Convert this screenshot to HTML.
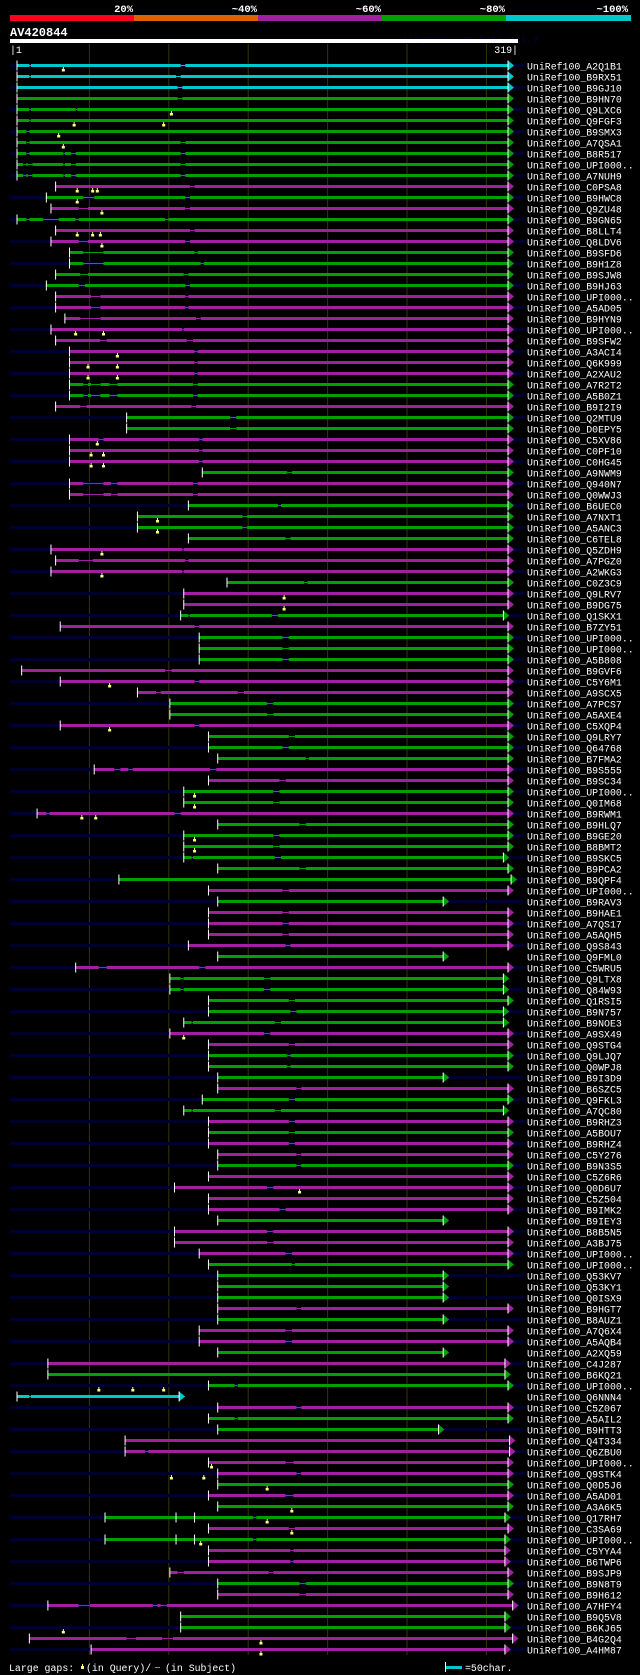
<!DOCTYPE html>
<html><head><meta charset="utf-8">
<style>
html,body{margin:0;padding:0;background:#000;}
svg{display:block;}
text{font-family:"Liberation Mono","DejaVu Sans Mono",monospace;}
</style></head>
<body>
<svg id="chart" width="640" height="1675" viewBox="0 0 640 1675" xmlns="http://www.w3.org/2000/svg">
<rect x="0" y="0" width="640" height="1675" fill="#000"/>
<g id="header">
  <rect x="10" y="15" width="124" height="6" fill="#ff0020"/>
  <rect x="134" y="15" width="124" height="6" fill="#e06000"/>
  <rect x="258" y="15" width="124" height="6" fill="#a020a0"/>
  <rect x="382" y="15" width="124" height="6" fill="#00a000"/>
  <rect x="506" y="15" width="125" height="6" fill="#00c8c8"/>
  <text x="133" y="12" fill="#fff" font-size="10.5" font-weight="bold" text-anchor="end">20%</text>
  <text x="257" y="12" fill="#fff" font-size="10.5" font-weight="bold" text-anchor="end">~40%</text>
  <text x="381" y="12" fill="#fff" font-size="10.5" font-weight="bold" text-anchor="end">~60%</text>
  <text x="505" y="12" fill="#fff" font-size="10.5" font-weight="bold" text-anchor="end">~80%</text>
  <text x="628" y="12" fill="#fff" font-size="10.5" font-weight="bold" text-anchor="end">~100%</text>
</g>
<text x="10" y="36" fill="#fff" font-size="12" font-weight="bold">AV420844</text>
<text x="402" y="43" fill="#000048" font-size="9.9">AlignView.pm Beta rel.7</text>
<rect x="10" y="39" width="508" height="4" fill="#fff"/>
<text x="10" y="53" fill="#fff" font-size="9.9">|1</text>
<text x="518" y="53" fill="#fff" font-size="9.9" text-anchor="end">319|</text>
<g id="grid"></g>
<g id="rows"></g>
<g id="footer">
  <text x="9" y="1671" fill="#fff" font-size="9.9">Large gaps:</text>
  <rect x="81" y="1666" width="3" height="3" fill="#ffff80"/>
  <rect x="82" y="1664" width="1" height="2" fill="#ffff80"/>
  <text x="86" y="1671" fill="#fff" font-size="9.9">(in Query)/</text>
  <rect x="155" y="1667" width="5" height="1" fill="#00c8c8"/>
  <text x="165" y="1671" fill="#fff" font-size="9.9">(in Subject)</text>
  <rect x="445" y="1662" width="1" height="10" fill="#fff"/>
  <rect x="446" y="1666" width="16" height="3" fill="#00c8c8"/>
  <text x="465" y="1671" fill="#fff" font-size="9.9">=50char.</text>
</g>
</svg>
<script>
const names = ["A2Q1B1","B9RX51","B9GJ10","B9HN70","Q9LXC6","Q9FGF3","B9SMX3","A7QSA1","B8R517","UPI000..","A7NUH9","C0PSA8","B9HWC8","Q9ZU48","B9GN65","B8LLT4","Q8LDV6","B9SFD6","B9H1Z8","B9SJW8","B9HJ63","UPI000..","A5AD05","B9HYN9","UPI000..","B9SFW2","A3ACI4","Q6K999","A2XAU2","A7R2T2","A5B0Z1","B9I2I9","Q2MTU9","D0EPY5","C5XV86","C0PF10","C0HG45","A9NWM9","Q940N7","Q0WWJ3","B6UEC0","A7NXT1","A5ANC3","C6TEL8","Q5ZDH9","A7PGZ0","A2WKG3","C0Z3C9","Q9LRV7","B9DG75","Q1SKX1","B7ZY51","UPI000..","UPI000..","A5B808","B9GVF6","C5Y6M1","A9SCX5","A7PCS7","A5AXE4","C5XQP4","Q9LRY7","Q64768","B7FMA2","B9S555","B9SC34","UPI000..","Q0IM68","B9RWM1","B9HLQ7","B9GE20","B8BMT2","B9SKC5","B9PCA2","B9QPF4","UPI000..","B9RAV3","B9HAE1","A7QS17","A5AQH5","Q9S843","Q9FML0","C5WRU5","Q9LTX8","Q84W93","Q1RSI5","B9N757","B9NOE3","A9SX49","Q9STG4","Q9LJQ7","Q0WPJ8","B9I3D9","B6SZC5","Q9FKL3","A7QC80","B9RHZ3","A5BOU7","B9RHZ4","C5Y276","B9N3S5","C5Z6R6","Q0D6U7","C5Z504","B9IMK2","B9IEY3","B8B5N5","A3BJ75","UPI000..","UPI000..","Q53KV7","Q53KY1","Q0ISX9","B9HGT7","B8AUZ1","A7Q6X4","A5AQB4","A2XQ59","C4J287","B6KQ21","UPI000..","Q6NNN4","C5Z067","A5AIL2","B9HTT3","Q4T334","Q6ZBU0","UPI000..","Q9STK4","Q0D5J6","A5AD01","A3A6K5","Q17RH7","C3SA69","UPI000..","C5YYA4","B6TWP6","B9SJP9","B9N8T9","B9H612","A7HFY4","B9Q5V8","B6KJ65","B4G2Q4","A4HM87"];
const starts = [1,1,1,1,1,1,1,1,1,1,1,26,20,23,1,26,23,35,35,26,20,26,26,32,23,26,35,35,35,35,35,26,72,72,35,35,35,121,35,35,112,79,79,112,23,26,23,137,109,109,107,29,119,119,119,4,29,79,100,100,29,125,125,131,51,125,109,109,14,131,109,109,109,131,67,125,131,125,125,125,112,131,39,100,100,125,125,109,100,125,125,125,131,131,121,109,125,125,125,131,131,125,103,125,125,131,103,103,119,125,131,131,131,131,131,119,119,131,21,21,125,1,131,125,131,71,71,125,131,131,125,131,58,125,58,125,125,100,131,131,21,107,107,9,49];
const ends = [319,319,319,319,319,319,319,319,319,319,319,319,319,319,319,319,319,319,319,319,319,319,319,319,319,319,319,319,319,319,319,319,319,319,319,319,319,319,319,319,319,319,319,319,319,319,319,319,319,319,316,319,319,319,319,319,319,319,319,319,319,319,319,319,319,319,319,319,319,319,319,319,316,319,321,319,277,319,319,319,319,277,319,316,316,319,316,316,319,319,319,319,277,319,319,316,319,319,319,319,319,319,319,319,319,277,319,319,319,319,277,277,277,319,277,319,319,277,317,317,319,106,319,319,274,320,320,319,319,319,319,319,317,319,317,317,317,319,319,319,322,317,317,322,317];
const colors = ["cccggggggg","gmgmgmmggg","gmmmmmmmmg","gmggmmmgmm","ggggmmmgmm","gmgggmmmgg","mgggmmggmg","gggggmgmmm","mgmgggggmm","gggmggmgmm","gmmmmgmmmg","gggmgmmgmg","gcmggmmmmg","mggmgmmmgm","mggmm"].join("");
const gaps = [[[9,10],[107,110]],[[9,10],[104,107]],[[105,108]],[[105,108]],[[9,10],[39,40]],[[9,10]],[[7,9]],[[7,9],[107,110]],[[7,9],[31,32],[36,39],[107,110]],[[5,7],[8,11],[31,32],[36,39],[107,110]],[[5,7],[8,11],[31,32],[36,39],[107,110]],[[113,116]],[[44,51],[110,113]],[[41,47],[110,113]],[[7,9],[18,28],[39,41],[97,99]],[[113,116]],[[41,47],[110,113]],[[44,57],[116,118]],[[44,57],[120,122]],[[42,47],[109,112]],[[41,45],[110,113]],[[49,55],[110,112]],[[49,55],[110,112]],[[42,55],[117,120]],[[108,109]],[[55,59],[111,115]],[[116,118]],[[116,118]],[[116,118]],[[44,47],[49,55],[61,66],[115,118]],[[44,47],[49,55],[61,66],[115,118]],[[42,46],[114,117]],[[139,143]],[[139,143]],[[54,57],[119,121]],[[119,121]],[[119,121]],[[176,179]],[[44,57],[62,66],[115,118]],[[44,57],[62,66],[115,118]],[[170,172]],[[147,150]],[[147,150]],[[175,178]],[[108,109]],[[41,50],[110,112]],[[108,109]],[[187,189]],[],[],[[112,113],[166,170]],[[116,119]],[[173,177]],[[173,177]],[[173,177]],[[97,101]],[[116,119]],[[91,94],[144,148]],[[163,167]],[[163,167]],[[116,119]],[[177,181]],[[173,177]],[[188,190]],[[64,68],[73,76],[126,130]],[[171,175]],[[167,171]],[[167,171]],[[20,22],[103,107]],[[184,188]],[[167,171]],[[167,171]],[[114,115],[168,172]],[[184,188]],[],[[173,177]],[],[[173,177]],[[173,177]],[[173,177]],[[175,178]],[],[[54,59],[119,123]],[[107,109],[161,165]],[[107,109],[161,165]],[[177,181]],[[178,182]],[[114,115],[168,172]],[[161,165]],[[177,181]],[[176,178]],[[176,178]],[],[[182,185]],[[177,181]],[[114,115],[168,172]],[[177,181]],[[177,181]],[[177,181]],[[182,185]],[[182,185]],[],[[163,167]],[],[[171,175]],[],[[163,167]],[[163,167]],[[175,179]],[[179,181]],[],[],[],[[182,185]],[],[[175,179]],[[175,179]],[],[],[],[[142,144]],[[9,10]],[[182,185]],[[142,144]],[],[],[[84,86]],[[175,180]],[[182,185]],[],[[175,180]],[],[[154,156]],[[177,181]],[[154,156]],[[178,180]],[[178,180]],[[105,109],[164,167]],[[184,188]],[[184,188]],[[41,48],[89,92],[94,98]],[],[],[[72,78],[95,102]],[]];
const markers = [[31],[],[],[],[101],[38,96],[28],[31],[],[],[],[40,50,53],[40],[56],[],[40,50,55],[56],[],[],[],[],[],[],[],[39,57],[],[66],[47,66],[47,66],[],[],[],[],[],[53],[49,57],[49,57],[],[],[],[],[92],[92],[],[56],[],[56],[],[174],[174],[],[],[],[],[],[],[61],[],[],[],[61],[],[],[],[],[],[116],[116],[43,52],[],[116],[116],[],[],[],[],[],[],[],[],[],[],[],[],[],[],[],[],[109],[],[],[],[],[],[],[],[],[],[],[],[],[],[184],[],[],[],[],[],[],[],[],[],[],[],[],[],[],[],[],[],[54,76,96],[],[],[],[],[],[],[127],[101,122],[163],[],[179],[163],[179],[120],[],[],[],[],[],[],[],[31],[159],[159],[],[71,97]];
const innerTicks = [[132,104],[132,116],[134,104],[134,116]];
const gridTicks = [1,2,3,4,5,6];

const NS = "http://www.w3.org/2000/svg";
const colorMap = {c:"#00c8c8", g:"#00a000", m:"#a020a0"};
function xs(r){ return 17 + (r-1)*491/318; }
function rowY(i){ return 65.5 + 11*i; }
function mk(tag, attrs, parent){
  const e = document.createElementNS(NS, tag);
  for (const k in attrs) e.setAttribute(k, attrs[k]);
  parent.appendChild(e);
  return e;
}
const grid = document.getElementById("grid");
gridTicks.forEach(k => {
  const l = mk("rect", {x: 10 + 79.4*k - 0.5, y: 44, width: 1, height: 1611, fill: "#33330a"}, grid);
  
  
});
const rows = document.getElementById("rows");
names.forEach((nm, i) => {
  const cy = rowY(i);
  const col = colorMap[colors[i]] || "#a020a0";
  const g = mk("g", {}, rows);
  
  
  if (i % 2 === 0) {
    const s = mk("rect", {x: 10, y: cy-1.5, width: 515, height: 3, fill: "#000030"}, g);
    
    
  }
  const xStart = xs(starts[i]), xEnd = xs(ends[i]);
  let cur = starts[i];
  const segs = [];
  gaps[i].forEach(gp => {
    segs.push([cur, gp[0]]);
    const ga = xs(gp[0]), gb = xs(gp[1]);
    const thin = mk("rect", {x: ga, y: cy-0.5, width: Math.max(gb-ga, 1), height: 1, fill: col}, g);
    
    
    cur = gp[1];
  });
  segs.push([cur, ends[i]]);
  segs.forEach(sg => {
    const a = xs(sg[0]), b = xs(sg[1]);
    if (b > a) {
      const r = mk("rect", {x: a, y: cy-1.5, width: b-a, height: 3, fill: col}, g);
      
      
    }
  });
  const tri = mk("polygon", {points: `${xEnd},${cy-5} ${xEnd+6},${cy} ${xEnd},${cy+5}`, fill: col}, g);
  
  
  const et = mk("rect", {x: xEnd-0.5, y: cy-5, width: 1, height: 10, fill: "#fff"}, g);
  
  
  const st = mk("rect", {x: xStart-0.5, y: cy-5, width: 1, height: 10, fill: "#fff"}, g);
  
  
  markers[i].forEach(mr => {
    const mx = xs(mr);
    const q = mk("rect", {x: mx-1.5, y: cy+3.5, width: 3, height: 2.5, fill: "#ffff80"}, g);
    
    
    const stem = mk("rect", {x: mx-0.5, y: cy+1.5, width: 1, height: 2, fill: "#ffff80"}, g);
    
    
  });
  const t = mk("text", {x: 527, y: cy+4, fill: "#fff", "font-size": "9.9"}, g);
  t.textContent = "UniRef100_" + nm;
  
  
});
innerTicks.forEach(tk => {
  const cy = rowY(tk[0]);
  const r = mk("rect", {x: xs(tk[1])-0.5, y: cy-5, width: 1, height: 10, fill: "#fff"}, rows);
  
  
});
</script>
</body></html>
